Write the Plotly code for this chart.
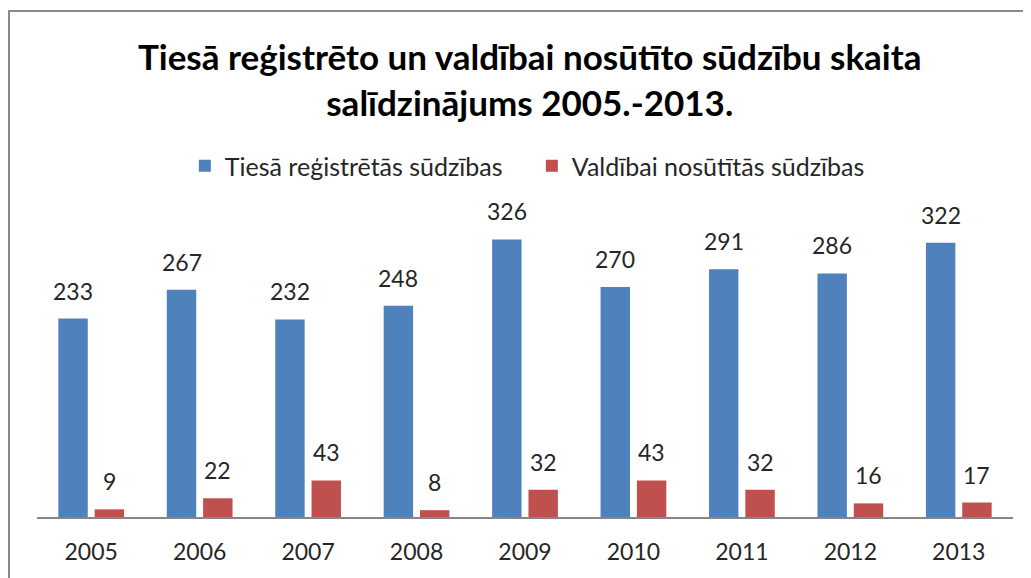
import plotly.graph_objects as go

years = ["2005", "2006", "2007", "2008", "2009", "2010", "2011", "2012", "2013"]
registered = [233, 267, 232, 248, 326, 270, 291, 286, 322]
sent = [9, 22, 43, 8, 32, 43, 32, 16, 17]
series_names = ["Tiesā reģistrētās sūdzības", "Valdībai nosūtītās sūdzības"]
title_text = "Tiesā reģistrēto un valdībai nosūtīto sūdzību skaita<br>salīdzinājums 2005.-2013."

FONT = "Lato"
LABEL_COLOR = "#262626"

OFF = 8  # page body margin
W, H = 1031 - OFF, 578 - OFF
ML, MR, MT, MB = 37 - OFF, 18, 219 - OFF, 61
PW, PH = W - ML - MR, H - MT - MB
BARGAP, GROUPGAP = 0.33, 0.19
SLOT = PW / len(years) * (1 - BARGAP) / 2


def px_x(x):
    return (x - OFF - ML) / PW


def px_y(y):
    return (H - MB - (y - OFF)) / PH


fig = go.Figure()
fig.add_trace(go.Bar(x=years, y=registered, name=series_names[0],
                     marker=dict(color="#4F81BD", line=dict(width=0))))
fig.add_trace(go.Bar(x=years, y=sent, name=series_names[1],
                     marker=dict(color="#C0504D", line=dict(width=0))))

annotations = []
for vals, shift in ((registered, -SLOT / 2), (sent, SLOT / 2)):
    for i, v in enumerate(vals):
        annotations.append(dict(x=i, y=v, xref="x", yref="y", text=str(v), showarrow=False,
                                xanchor="center", yanchor="bottom", xshift=shift, yshift=12,
                                font=dict(size=23, family=FONT, color=LABEL_COLOR)))

fig.update_layout(
    width=W, height=H,
    margin=dict(l=ML, r=MR, t=MT, b=MB, autoexpand=False),
    paper_bgcolor="white", plot_bgcolor="white",
    barmode="group", bargap=BARGAP, bargroupgap=GROUPGAP,
    font=dict(family=FONT, color=LABEL_COLOR),
    title=dict(text=title_text, x=0.51, xanchor="center", y=1 - 62 / H, yanchor="middle",
               font=dict(size=35, family=FONT, color="black", weight="bold"), automargin=False),
    legend=dict(orientation="h", x=0.507, xanchor="center", y=px_y(166), yanchor="middle",
                font=dict(size=25, family=FONT, color=LABEL_COLOR),
                itemwidth=30, traceorder="normal", entrywidth=302, entrywidthmode="pixels"),
    showlegend=True,
    annotations=annotations,
    xaxis=dict(type="category", range=[-0.5, len(years) - 0.5], showline=True,
               linecolor="#868686", linewidth=1.5, ticks="",
               tickfont=dict(size=23, family=FONT, color=LABEL_COLOR),
               ticklabelstandoff=14, showgrid=False, automargin=False),
    yaxis=dict(range=[0, 350], visible=False, showgrid=False, automargin=False),
    shapes=[
        dict(type="line", xref="paper", yref="paper", x0=px_x(8), x1=px_x(1040), y0=px_y(11), y1=px_y(11),
             line=dict(color="#888888", width=2)),
        dict(type="line", xref="paper", yref="paper", x0=px_x(9), x1=px_x(9), y0=px_y(11), y1=px_y(600),
             line=dict(color="#888888", width=2)),
    ],
)

fig.write_html("out.html")
